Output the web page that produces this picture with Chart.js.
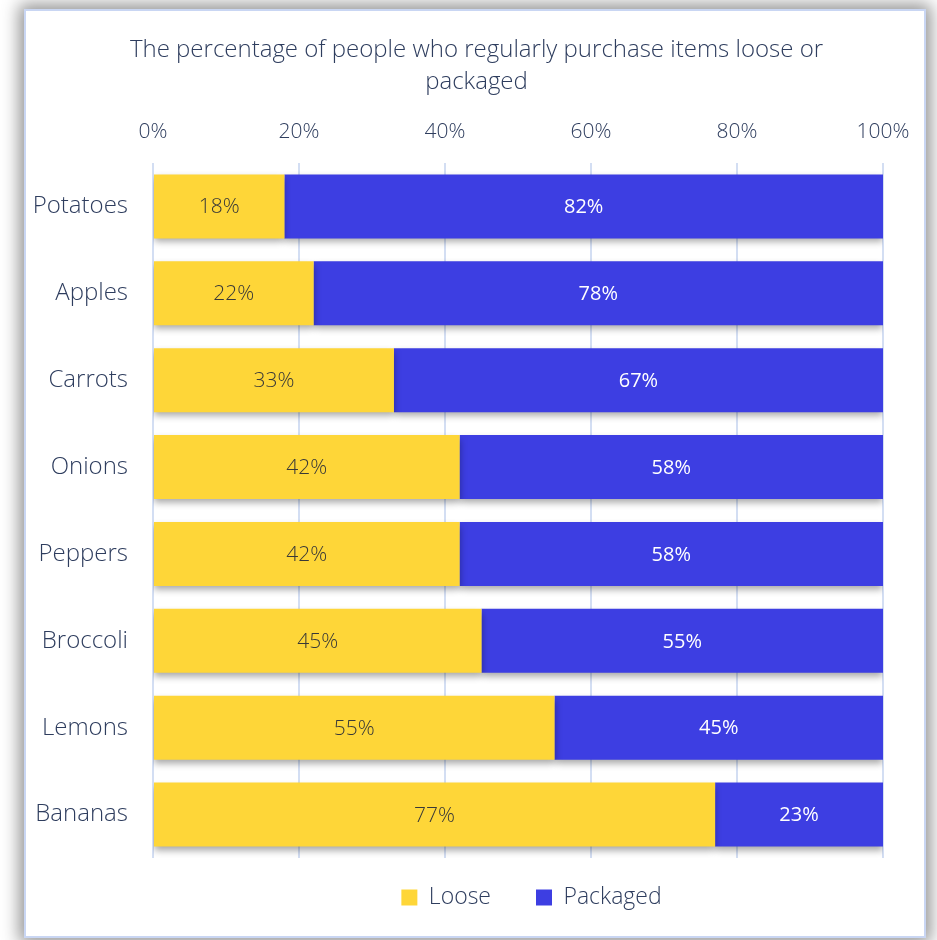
<!DOCTYPE html>
<html>
<head>
<meta charset="utf-8">
<script src="https://cdn.jsdelivr.net/npm/chart.js@4.4.1/dist/chart.umd.min.js"></script>
<style>
    html, body {
        margin: 0;
        padding: 0;
        background: #ffffff;
        width: 937px;
        height: 940px;
        overflow: hidden;
    }
    .card {
        position: absolute;
        left: 24px;
        top: 9px;
        width: 902px;
        height: 929px;
        box-sizing: border-box;
        border: 2px solid #c9d6f3;
        background: #ffffff;
        box-shadow: 0 0 16px 5px rgba(0, 0, 0, 0.42);
    }
    #chart {
        position: absolute;
        left: 0;
        top: 0;
    }
</style>
</head>
<body>
<div class="card"></div>
<canvas id="chart" width="937" height="940"></canvas>
<script>
// Dữ liệu biểu đồ
const categories = ['Potatoes', 'Apples', 'Carrots', 'Onions', 'Peppers', 'Broccoli', 'Lemons', 'Bananas'];
const looseValues = [18, 22, 33, 42, 42, 45, 55, 77];
const packagedValues = [82, 78, 67, 58, 58, 55, 45, 23];
const seriesNames = ['Loose', 'Packaged'];
const titleLines = ['The percentage of people who regularly purchase items loose or', 'packaged'];
const xTickValues = [0, 20, 40, 60, 80, 100];

const textColor = '#2e3d5e';
const fontFamily = "'Open Sans', 'Noto Sans', sans-serif";

// Plugin vẽ bóng đổ cho các thanh
const barShadowPlugin = {
    id: 'barShadow',
    beforeDatasetsDraw(chart) {
        const ctx = chart.ctx;
        ctx.save();
        ctx.shadowColor = 'rgba(0, 0, 0, 0.35)';
        ctx.shadowBlur = 7;
        ctx.shadowOffsetX = 0;
        ctx.shadowOffsetY = 4;
    },
    afterDatasetsDraw(chart) {
        chart.ctx.restore();
    }
};

// Plugin vẽ nhãn giá trị ở giữa mỗi đoạn
const valueLabelPlugin = {
    id: 'valueLabels',
    afterDatasetsDraw(chart) {
        const ctx = chart.ctx;
        ctx.save();
        ctx.textAlign = 'center';
        ctx.textBaseline = 'middle';
        chart.data.datasets.forEach((dataset, i) => {
            const meta = chart.getDatasetMeta(i);
            ctx.font = i === 0 ? `300 21px ${fontFamily}` : `20px ${fontFamily}`;
            ctx.fillStyle = i === 0 ? '#383838' : '#ffffff';
            meta.data.forEach((bar, j) => {
                const cx = (bar.x + bar.base) / 2;
                ctx.fillText(dataset.data[j] + '%', cx, bar.y + 1);
            });
        });
        ctx.restore();
    }
};

// Dời tiêu đề và chú thích cho giống bản gốc
const shiftBoxesPlugin = {
    id: 'shiftBoxes',
    afterLayout(chart) {
        const shift = (box, dx, dy) => {
            if (!box) return;
            box.left += dx;
            box.right += dx;
            box.top += dy;
            box.bottom += dy;
        };
        shift(chart.titleBlock, 35, 0);
        shift(chart.legend, 90, -17);
    }
};

// Hàm tạo biểu đồ
function createChart() {
    const ctx = document.getElementById('chart').getContext('2d');
    return new Chart(ctx, {
        type: 'bar',
        data: {
            labels: categories,
            datasets: [
                {
                    label: seriesNames[0],
                    data: looseValues,
                    backgroundColor: '#fed638'
                },
                {
                    label: seriesNames[1],
                    data: packagedValues,
                    backgroundColor: '#3d3ee2'
                }
            ]
        },
        options: {
            indexAxis: 'y',
            responsive: false,
            animation: false,
            categoryPercentage: 1,
            barPercentage: 0.736,
            layout: {
                padding: { top: 34, right: 54, bottom: 4, left: 0 }
            },
            scales: {
                x: {
                    position: 'top',
                    stacked: true,
                    min: 0,
                    max: 100,
                    afterBuildTicks(scale) {
                        scale.ticks = xTickValues.map(v => ({ value: v }));
                    },
                    afterFit(scale) {
                        scale.height = 65;
                    },
                    ticks: {
                        padding: 18,
                        color: textColor,
                        font: { family: fontFamily, size: 21, weight: 300 },
                        callback: v => v + '%'
                    },
                    grid: {
                        color: '#d3def3',
                        lineWidth: 2,
                        drawTicks: false
                    },
                    border: { display: false }
                },
                y: {
                    stacked: true,
                    afterFit(scale) {
                        scale.width = 153;
                    },
                    ticks: {
                        padding: 25,
                        color: textColor,
                        font: { family: fontFamily, size: 24, weight: 300, lineHeight: 1.05 }
                    },
                    grid: { display: false, drawTicks: false },
                    border: { display: false }
                }
            },
            plugins: {
                title: {
                    display: true,
                    text: titleLines,
                    color: textColor,
                    font: { family: fontFamily, size: 24, weight: 300, lineHeight: '32px' },
                    padding: { top: 0, bottom: 0 }
                },
                legend: {
                    position: 'bottom',
                    labels: {
                        color: textColor,
                        boxWidth: 16,
                        boxHeight: 16,
                        padding: 45,
                        font: { family: fontFamily, size: 23, weight: 300 }
                    }
                },
                tooltip: { enabled: false }
            }
        },
        plugins: [barShadowPlugin, valueLabelPlugin, shiftBoxesPlugin]
    });
}

createChart();
</script>
</body>
</html>
